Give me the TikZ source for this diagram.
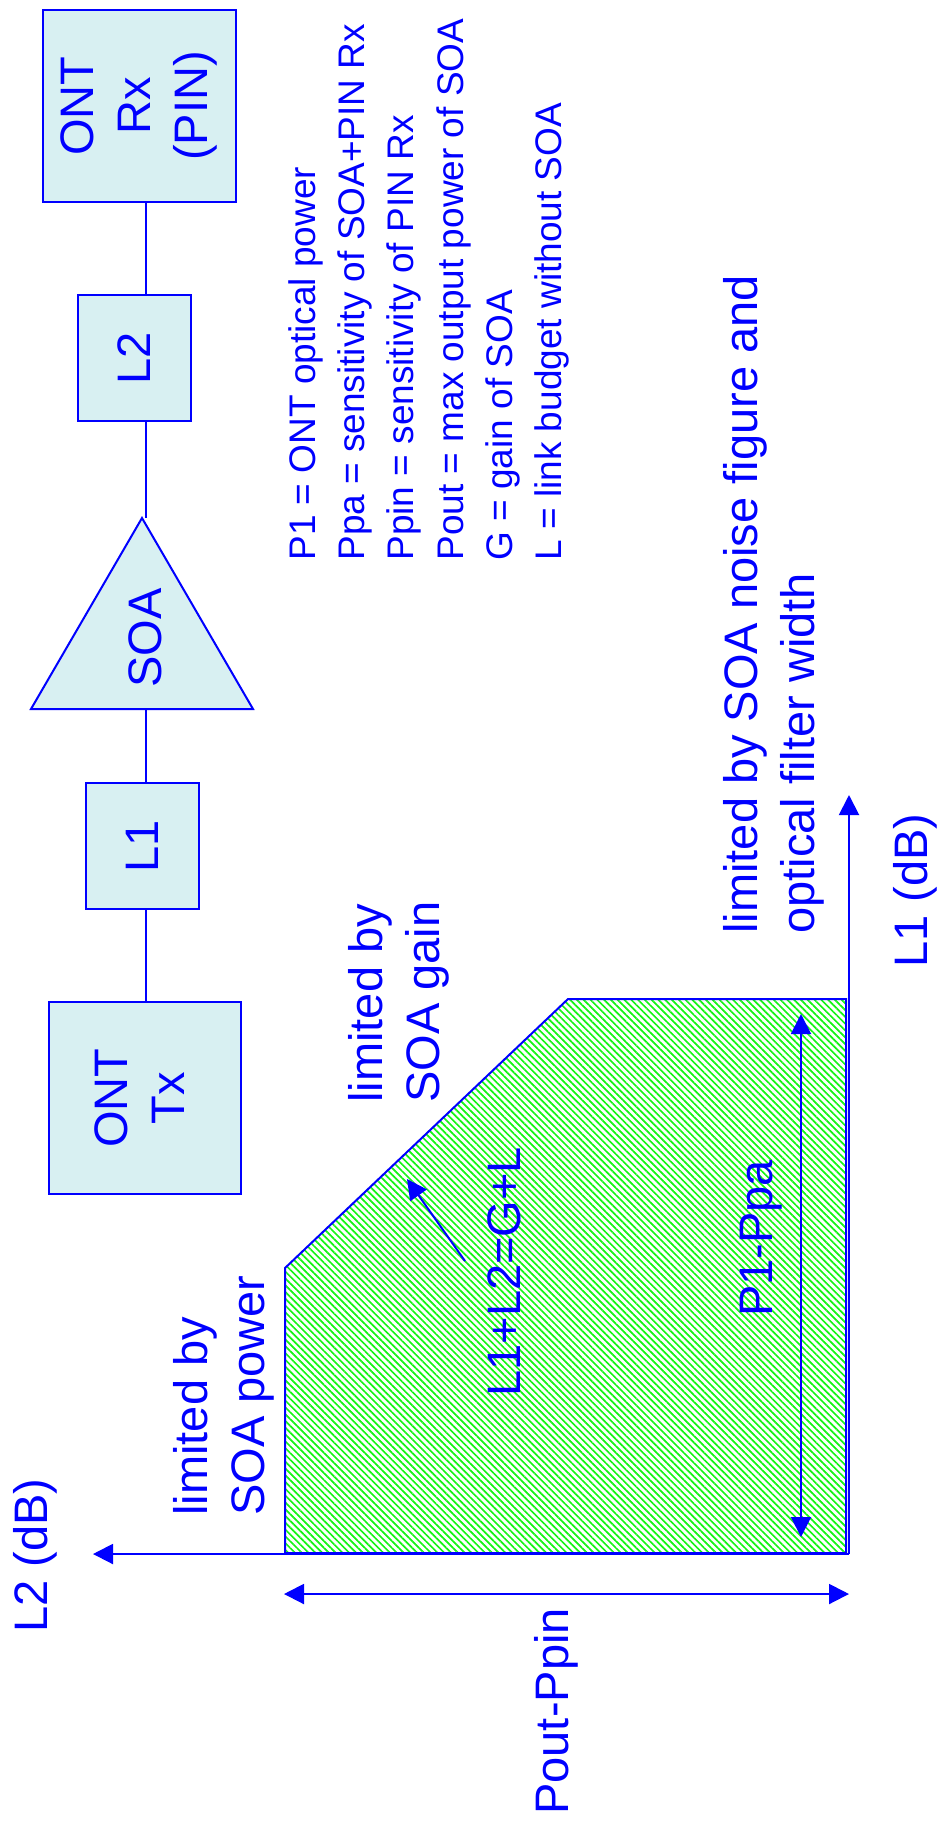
\documentclass[tikz,border=0pt]{standalone}
\usepackage{fontspec}
\setmainfont{Liberation Sans}
\usetikzlibrary{arrows.meta,patterns.meta}
\definecolor{cblue}{RGB}{0,0,255}
\definecolor{boxfill}{RGB}{216,240,242}
\definecolor{hatchgreen}{RGB}{20,245,20}
\begin{document}
\begin{tikzpicture}[x=0.5pt,y=-0.5pt,
 box/.style={draw=cblue, fill=boxfill, line width=1pt, inner sep=0pt, text=cblue, font=\fontsize{23.5}{28.5}\selectfont},
 wire/.style={draw=cblue, line width=1pt},
 arr/.style={draw=cblue, line width=1pt, -{Triangle[width=10pt,length=10pt]}},
 darr/.style={draw=cblue, line width=1pt, {Triangle[width=10pt,length=10pt]}-{Triangle[width=10pt,length=10pt]}},
 lbl/.style={text=cblue, font=\fontsize{23.5}{28.5}\selectfont, inner sep=0pt, rotate=90, align=left, anchor=north west},
 lbl1/.style={text=cblue, font=\fontsize{23.5}{28.5}\selectfont, inner sep=0pt, rotate=90, anchor=base west},
 leg/.style={text=cblue, font=\fontsize{18.5}{24}\selectfont, inner sep=0pt, rotate=90, anchor=base west},
]
\useasboundingbox (0,0) rectangle (938,1828);
\coordinate (cx) at (146,0);

% chain
\node[box, minimum width=96.5pt, minimum height=96pt] (rx) at (139.5,106) {\rotatebox{90}{\begin{tabular}{@{}c@{}}ONT\\Rx\\(PIN)\end{tabular}}};
\node[box, minimum width=56.5pt, minimum height=63pt] (l2) at (134.5,358) {\rotatebox{90}{L2}};
\coordinate (soaApex) at (142,518);
\coordinate (soaL) at (31,709);
\coordinate (soaR) at (253,709);
\coordinate (soaBase) at (146,709);
\filldraw[fill=boxfill, draw=cblue, line width=1pt] (soaApex) -- (soaL) -- (soaR) -- cycle;
\node[text=cblue, font=\fontsize{23.5}{28.5}\selectfont, rotate=90, inner sep=0pt] (soa) at (145,638) {SOA};
\node[box, minimum width=56.5pt, minimum height=63pt] (l1) at (142.5,846) {\rotatebox{90}{L1}};
\node[box, minimum width=96pt, minimum height=96pt] (tx) at (145,1098) {\rotatebox{90}{\begin{tabular}{@{}c@{}}ONT\\Tx\end{tabular}}};

\draw[wire] (rx.south -| cx) -- (l2.north -| cx);
\draw[wire] (l2.south -| cx) -- (soaApex -| cx);
\draw[wire] (soaBase) -- (l1.north -| cx);
\draw[wire] (l1.south -| cx) -- (tx.north -| cx);

% legend
\node[leg] (g1) at (315,561) {P1 = ONT optical power};
\node[leg] (g2) at (364,561) {Ppa = sensitivity of SOA+PIN Rx};
\node[leg] (g3) at (413,561) {Ppin = sensitivity of PIN Rx};
\node[leg] (g4) at (463,561) {Pout = max output power of SOA};
\node[leg] (g5) at (512,561) {G = gain of SOA};
\node[leg] (g6) at (561,561) {L = link budget without SOA};

% region
\draw[draw=cblue, line width=1pt, pattern={Lines[angle=-45,distance=2.4pt,line width=0.85pt]}, pattern color=hatchgreen]
  (846,999) -- (568,999) -- (285,1268) -- (285,1553) -- (846,1553) -- cycle;

% axes
\coordinate (O) at (849,1554);
\coordinate (L1tip) at (849,795);
\coordinate (L2tip) at (93,1554);
\draw[arr] (O) -- (L1tip);
\draw[arr] (O) -- (L2tip);

\coordinate (pA) at (284,1594);
\coordinate (pB) at (849,1594);
\draw[darr] (pA) -- (pB);
\coordinate (qA) at (801,1014);
\coordinate (qB) at (801,1537);
\draw[darr] (qA) -- (qB);
\coordinate (sA) at (465,1261);
\coordinate (sB) at (407,1179);
\draw[arr] (sA) -- (sB);

% labels
\node[lbl1] (l1ax) at (927,968) {L1 (dB)};
\node[lbl1] (l2ax) at (47,1633) {L2 (dB)};
\node[lbl1] (poutppin) at (568,1815) {Pout-Ppin};
\node[lbl1] (p1ppa) at (772,1317) {P1-Ppa};
\node[lbl1] (sum) at (520,1397) {L1+L2=G+L};
\node[lbl] (nf) at (723,934) {limited by SOA noise figure and\\optical filter width};
\node[lbl] (gain) at (348,1103) {limited by\\SOA gain};
\node[lbl] (pow) at (173,1516) {limited by\\SOA power};
\end{tikzpicture}
\end{document}
